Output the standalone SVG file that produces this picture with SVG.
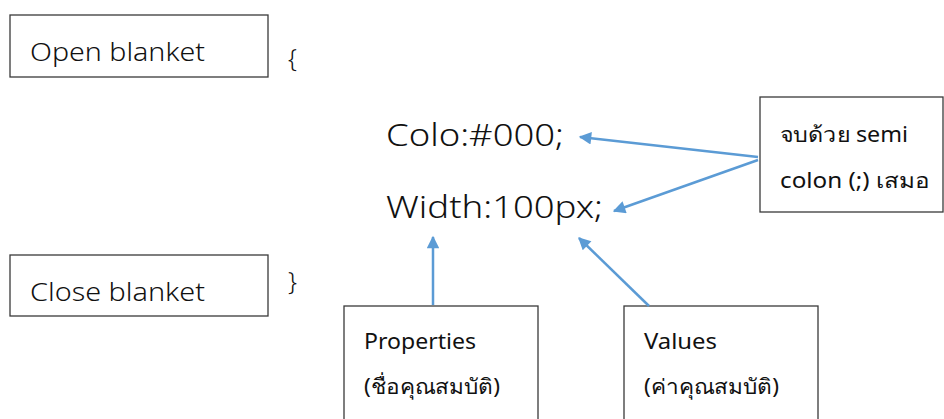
<svg xmlns="http://www.w3.org/2000/svg" width="944" height="419" viewBox="0 0 944 419">
<style>
.box{fill:#fff;stroke:#3a3a3a;stroke-width:1.3}
.t{font-family:"Noto Sans","DejaVu Sans",sans-serif;fill:#111}
.lbl{font-size:25px;font-weight:300}
.sm{font-size:21px}
.code{font-size:32px;font-weight:300}
.con{stroke:#5B9BD5;stroke-width:2.5;fill:none;marker-end:url(#ah)}
</style>
<defs>
<marker id="ah" viewBox="0 0 10 10" refX="9" refY="5" markerWidth="6" markerHeight="5" markerUnits="strokeWidth" orient="auto">
<path d="M0,0 L10,5 L0,10 z" fill="#5B9BD5"/>
</marker>
</defs>
<rect width="944" height="419" fill="#fff"/>
<g id="open">
<rect class="box" x="10" y="15" width="258" height="62"/>
<text class="t lbl" x="30" y="61" textLength="175" lengthAdjust="spacingAndGlyphs">Open blanket</text>
</g>
<g id="openbrace"><text class="t lbl" x="288" y="67">{</text></g>
<g id="close">
<rect class="box" x="10" y="255" width="258" height="61"/>
<text class="t lbl" x="30" y="301" textLength="175" lengthAdjust="spacingAndGlyphs">Close blanket</text>
</g>
<g id="closebrace"><text class="t lbl" x="288" y="290">}</text></g>
<g id="code">
<text class="t code" x="386" y="146" textLength="178" lengthAdjust="spacingAndGlyphs">Colo:#000;</text>
<text class="t code" x="386" y="218" textLength="217" lengthAdjust="spacingAndGlyphs">Width:100px;</text>
</g>
<g id="semi">
<rect class="box" x="760" y="97" width="183" height="115"/>
<text class="t sm" x="780" y="142" textLength="128" lengthAdjust="spacingAndGlyphs">จบด้วย semi</text>
<text class="t sm" x="780" y="188" textLength="150" lengthAdjust="spacingAndGlyphs">colon (;) เสมอ</text>
</g>
<g id="props">
<rect class="box" x="344" y="306" width="194" height="120"/>
<text class="t sm" x="364" y="349" textLength="112" lengthAdjust="spacingAndGlyphs">Properties</text>
<text class="t sm" x="364" y="394" textLength="136" lengthAdjust="spacingAndGlyphs">(ชื่อคุณสมบัติ)</text>
</g>
<g id="values">
<rect class="box" x="624" y="306" width="194" height="120"/>
<text class="t sm" x="644" y="349" textLength="73" lengthAdjust="spacingAndGlyphs">Values</text>
<text class="t sm" x="644" y="394" textLength="135" lengthAdjust="spacingAndGlyphs">(ค่าคุณสมบัติ)</text>
</g>
<g id="connectors">
<line class="con" x1="758" y1="157" x2="580" y2="137"/>
<line class="con" x1="758" y1="160" x2="614" y2="211"/>
<line class="con" x1="433" y1="305" x2="433" y2="237"/>
<line class="con" x1="649" y1="306" x2="579" y2="238"/>
</g>
</svg>
